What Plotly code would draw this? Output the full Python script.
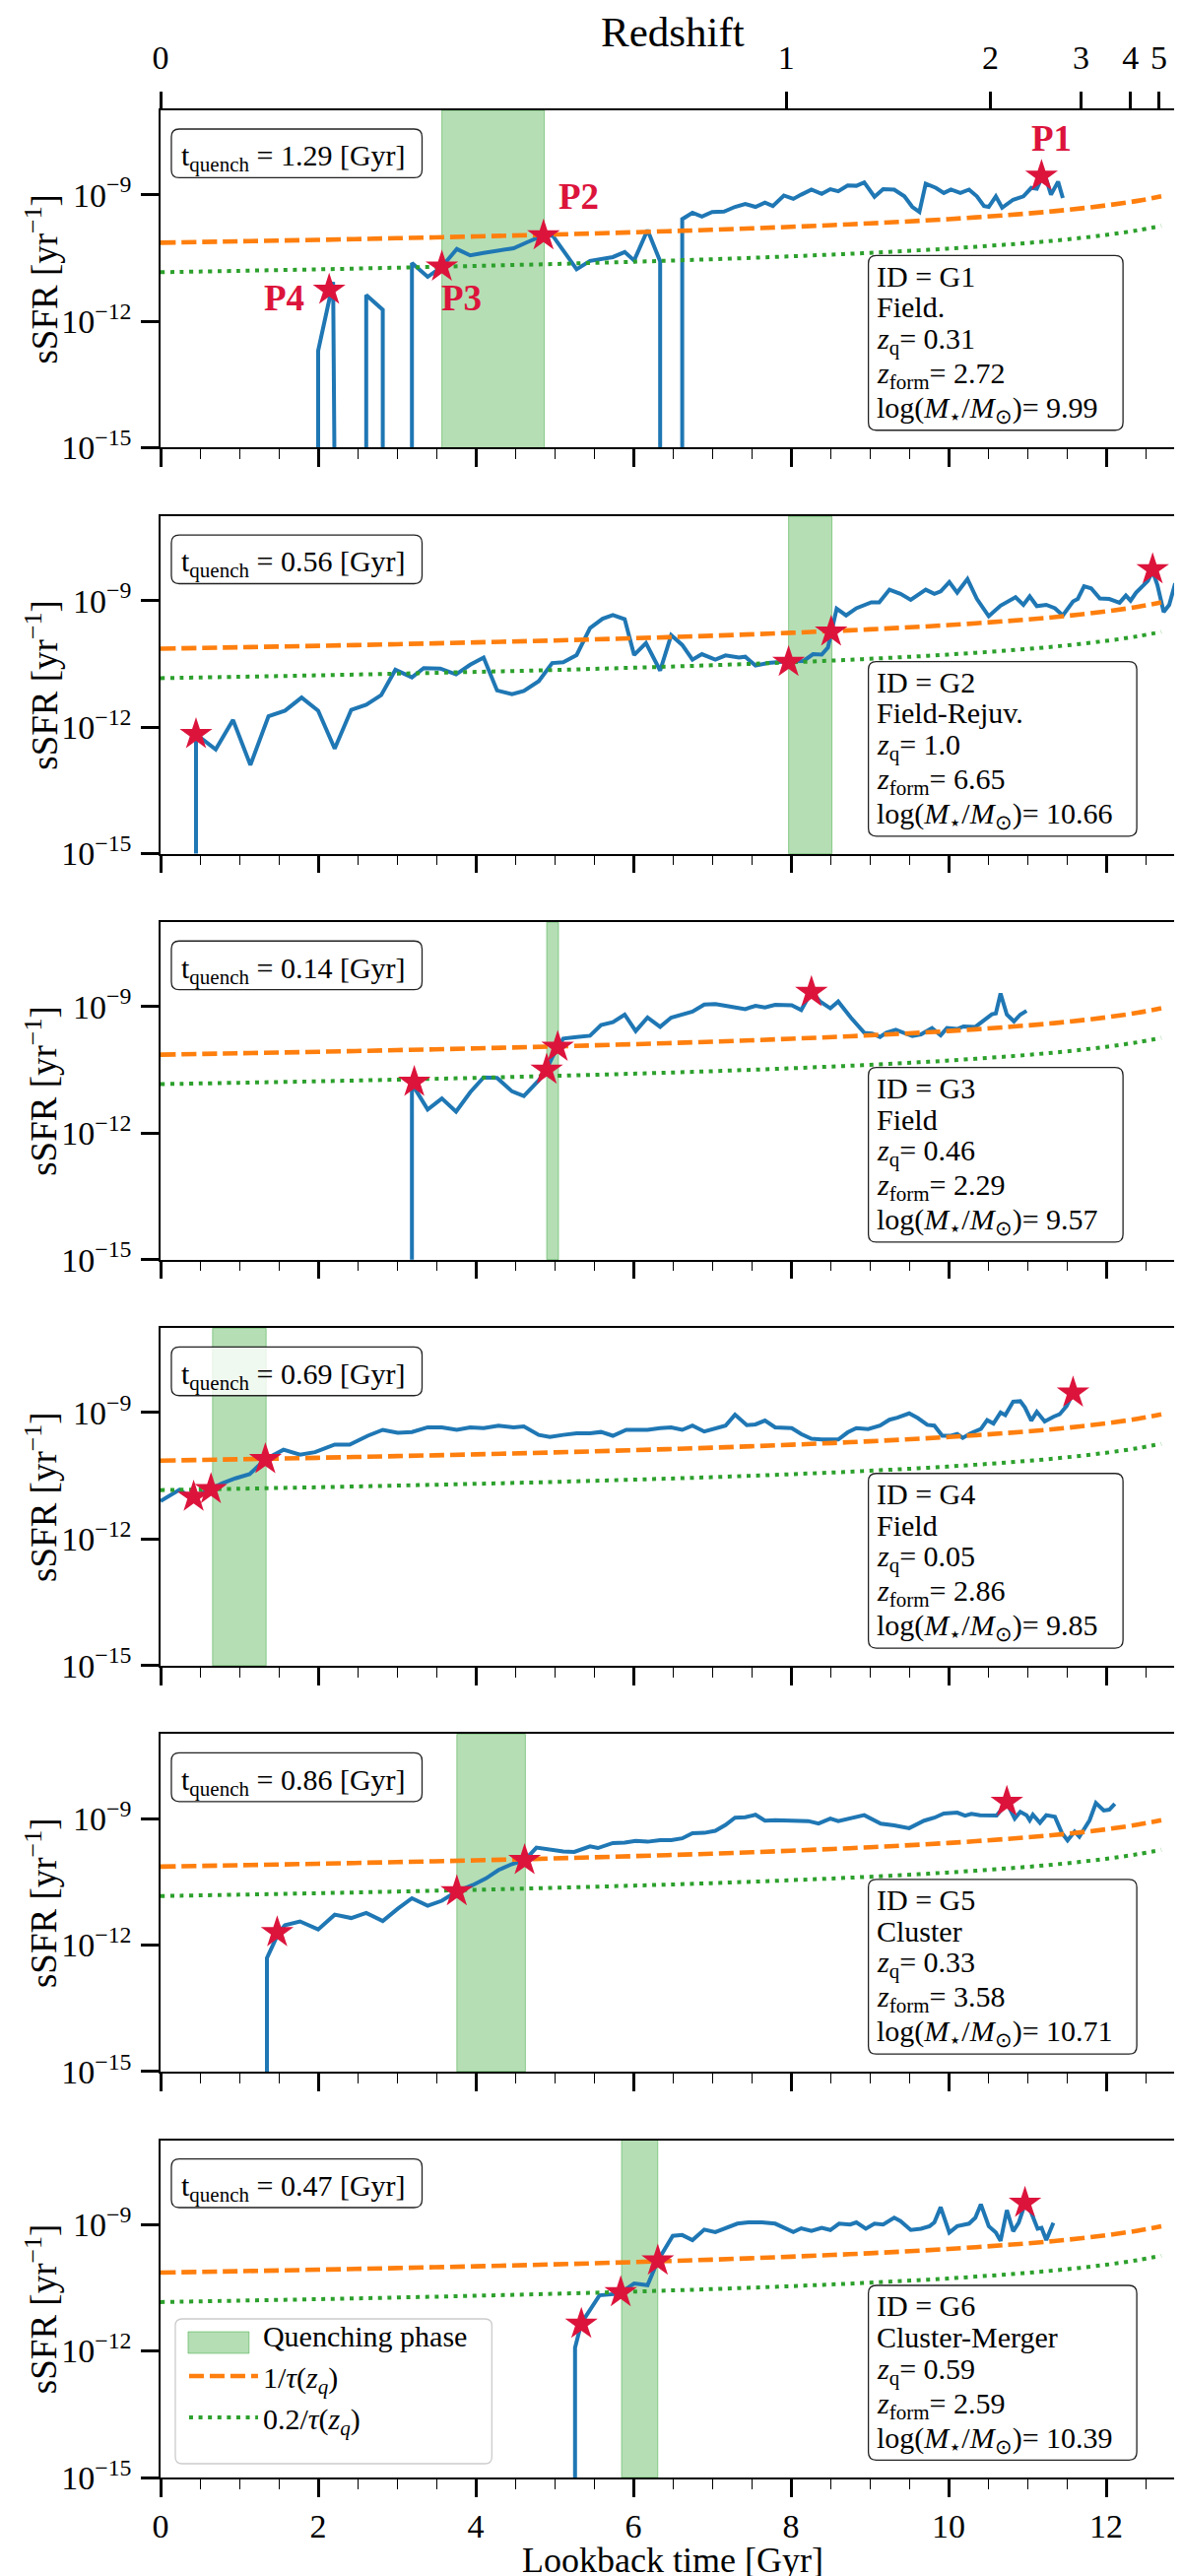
import plotly.graph_objects as go

# ---------------- data ----------------
FONT = "Liberation Serif"
BLUE, ORANGE, GREEN, CRIMSON = "#1f77b4", "#ff7f0e", "#2ca02c", "#dc143c"
BAND_FILL = "rgba(44,160,44,0.35)"
BAND_EDGE = "rgba(44,160,44,0.45)"

# reference curves (log10 sSFR [yr^-1]) vs lookback time [Gyr]
ref_t = [0, 1, 2, 3, 4, 5, 6, 7, 8, 9, 10, 11, 11.5, 12, 12.4, 12.7]
ref_log_tau = [-10.14, -10.107, -10.072, -10.033, -9.991, -9.945, -9.892, -9.833,
               -9.763, -9.681, -9.580, -9.447, -9.362, -9.255, -9.146, -9.041]
ref_log_02tau = [-10.839, -10.806, -10.771, -10.732, -10.690, -10.644, -10.591, -10.532,
                 -10.462, -10.380, -10.279, -10.146, -10.061, -9.954, -9.845, -9.740]

# top axis: redshift ticks and their lookback times
z_tick_labels = ["0", "1", "2", "3", "4", "5"]
z_tick_lookback = [0.0, 7.94, 10.53, 11.68, 12.31, 12.67]

galaxy_ids = ["G1", "G2", "G3", "G4", "G5", "G6"]
environments = ["Field.", "Field-Rejuv.", "Field", "Field", "Cluster", "Cluster-Merger"]
z_q = ["0.31", "1.0", "0.46", "0.05", "0.33", "0.59"]
z_form = ["2.72", "6.65", "2.29", "2.86", "3.58", "2.59"]
log_mass = ["9.99", "10.66", "9.57", "9.85", "10.71", "10.39"]
t_quench = ["1.29", "0.56", "0.14", "0.69", "0.86", "0.47"]
quench_start = [3.57, 7.97, 4.90, 0.66, 3.76, 5.85]
quench_end = [4.87, 8.52, 5.05, 1.34, 4.63, 6.31]

# sSFR histories: (lookback time [Gyr], log10 sSFR); -16 = no star formation (below floor)
g1_history = [(2.00, -16), (2.00, -12.70), (2.19, -11.07), (2.21, -16), (2.61, -16), (2.61, -11.38),
              (2.82, -11.73), (2.82, -16), (3.19, -16), (3.19, -10.62), (3.39, -10.95), (3.57, -10.71),
              (3.76, -10.29), (3.93, -10.44), (4.10, -10.38), (4.31, -10.33), (4.48, -10.27), (4.65, -10.13),
              (4.86, -9.96), (4.98, -9.98), (5.28, -10.77), (5.45, -10.57), (5.66, -10.50), (5.74, -10.48),
              (5.89, -10.36), (6.01, -10.56), (6.18, -9.84), (6.34, -10.58), (6.34, -16), (6.62, -16),
              (6.62, -9.58), (6.75, -9.43), (6.87, -9.52), (7.00, -9.41), (7.15, -9.40), (7.29, -9.29),
              (7.42, -9.22), (7.55, -9.29), (7.67, -9.19), (7.77, -9.27), (7.91, -9.02), (8.03, -9.10),
              (8.13, -9.00), (8.26, -8.88), (8.39, -8.98), (8.50, -8.87), (8.60, -8.92), (8.72, -8.78),
              (8.83, -8.79), (8.93, -8.71), (9.06, -9.05), (9.17, -8.87), (9.31, -8.88), (9.44, -9.04),
              (9.54, -9.29), (9.63, -9.41), (9.71, -8.74), (9.84, -8.84), (9.94, -8.96), (10.03, -8.88),
              (10.15, -8.96), (10.26, -8.88), (10.36, -9.04), (10.45, -9.27), (10.51, -9.29), (10.60, -9.04),
              (10.68, -9.31), (10.82, -9.12), (10.95, -9.04), (11.05, -8.84), (11.12, -8.86), (11.18, -8.61),
              (11.24, -8.64), (11.30, -9.00), (11.39, -8.69), (11.45, -9.08)]
g2_history = [(0.45, -16), (0.45, -12.17), (0.70, -12.53), (0.92, -11.83), (1.14, -12.90), (1.37, -11.74),
              (1.58, -11.61), (1.79, -11.30), (2.00, -11.61), (2.21, -12.51), (2.42, -11.59), (2.61, -11.47),
              (2.80, -11.24), (2.98, -10.64), (3.19, -10.82), (3.34, -10.60), (3.55, -10.61), (3.75, -10.75),
              (3.93, -10.52), (4.10, -10.35), (4.27, -11.13), (4.46, -11.22), (4.61, -11.14), (4.80, -10.91),
              (4.97, -10.48), (5.11, -10.46), (5.28, -10.29), (5.45, -9.65), (5.61, -9.43), (5.74, -9.34),
              (5.89, -9.44), (6.01, -10.29), (6.16, -10.01), (6.34, -10.66), (6.48, -9.82), (6.62, -10.05),
              (6.75, -10.40), (6.87, -10.27), (7.04, -10.40), (7.17, -10.30), (7.34, -10.35), (7.42, -10.33),
              (7.55, -10.54), (7.71, -10.48), (7.97, -10.44), (8.16, -10.43), (8.28, -10.27), (8.39, -10.28),
              (8.47, -10.11), (8.51, -9.74), (8.58, -9.19), (8.70, -9.35), (8.83, -9.18), (9.02, -9.04),
              (9.12, -9.04), (9.25, -8.74), (9.39, -8.84), (9.52, -8.98), (9.71, -8.74), (9.82, -8.84),
              (9.90, -8.78), (10.01, -8.56), (10.11, -8.81), (10.24, -8.49), (10.36, -8.96), (10.51, -9.37),
              (10.66, -9.12), (10.85, -8.92), (10.95, -9.10), (11.03, -8.90), (11.12, -9.13), (11.24, -9.10),
              (11.35, -9.18), (11.45, -9.35), (11.58, -9.02), (11.64, -8.96), (11.72, -8.66), (11.81, -8.71),
              (11.92, -8.95), (12.04, -8.96), (12.17, -9.05), (12.25, -8.88), (12.31, -9.00), (12.38, -8.81),
              (12.46, -8.66), (12.53, -8.53), (12.59, -8.30), (12.65, -8.63), (12.73, -9.27), (12.80, -9.10),
              (12.87, -8.63), (12.93, -8.64), (13.00, -8.30)]
g3_history = [(3.19, -16), (3.19, -10.83), (3.39, -11.44), (3.57, -11.18), (3.75, -11.49), (3.93, -11.03),
              (4.10, -10.68), (4.27, -10.69), (4.46, -11.01), (4.61, -11.12), (4.80, -10.75), (4.90, -10.48),
              (4.98, -10.17), (5.04, -9.96), (5.11, -9.76), (5.28, -9.72), (5.45, -9.69), (5.59, -9.44),
              (5.74, -9.37), (5.89, -9.19), (6.03, -9.58), (6.18, -9.26), (6.34, -9.48), (6.48, -9.26),
              (6.62, -9.19), (6.75, -9.12), (6.90, -8.95), (7.04, -8.94), (7.17, -8.98), (7.29, -9.02),
              (7.42, -9.06), (7.55, -8.98), (7.67, -9.02), (7.80, -8.96), (8.01, -8.97), (8.13, -9.08),
              (8.26, -8.65), (8.37, -8.88), (8.50, -9.04), (8.60, -8.88), (8.76, -9.26), (8.93, -9.62),
              (9.03, -9.64), (9.13, -9.72), (9.21, -9.62), (9.33, -9.55), (9.44, -9.62), (9.54, -9.70),
              (9.65, -9.66), (9.79, -9.51), (9.90, -9.68), (9.98, -9.51), (10.11, -9.53), (10.19, -9.47),
              (10.34, -9.48), (10.45, -9.31), (10.55, -9.18), (10.60, -9.16), (10.66, -8.69), (10.74, -9.19),
              (10.83, -9.35), (10.91, -9.19), (10.99, -9.10)]
g4_history = [(0.00, -11.10), (0.24, -10.83), (0.40, -11.03), (0.64, -10.82), (0.78, -10.68), (0.95, -10.56),
              (1.13, -10.46), (1.33, -10.11), (1.56, -9.88), (1.77, -10.00), (1.96, -9.94), (2.21, -9.76),
              (2.40, -9.76), (2.63, -9.55), (2.82, -9.41), (3.01, -9.48), (3.19, -9.46), (3.39, -9.35),
              (3.57, -9.35), (3.76, -9.41), (3.93, -9.35), (4.10, -9.37), (4.29, -9.31), (4.48, -9.35),
              (4.61, -9.33), (4.80, -9.53), (4.94, -9.58), (5.11, -9.53), (5.28, -9.49), (5.45, -9.49),
              (5.59, -9.46), (5.74, -9.55), (5.91, -9.41), (6.03, -9.41), (6.18, -9.41), (6.34, -9.37),
              (6.48, -9.35), (6.62, -9.41), (6.75, -9.31), (6.90, -9.45), (7.04, -9.37), (7.17, -9.31),
              (7.29, -9.05), (7.44, -9.30), (7.55, -9.28), (7.67, -9.19), (7.80, -9.35), (8.01, -9.37),
              (8.13, -9.51), (8.26, -9.62), (8.39, -9.64), (8.60, -9.64), (8.72, -9.47), (8.83, -9.37),
              (8.98, -9.39), (9.13, -9.31), (9.25, -9.17), (9.35, -9.12), (9.50, -9.02), (9.61, -9.13),
              (9.73, -9.29), (9.82, -9.31), (9.92, -9.55), (10.03, -9.55), (10.11, -9.51), (10.18, -9.60),
              (10.28, -9.49), (10.41, -9.39), (10.49, -9.18), (10.57, -9.26), (10.66, -9.00), (10.72, -9.06),
              (10.82, -8.74), (10.91, -8.73), (10.97, -8.88), (11.05, -9.19), (11.12, -8.98), (11.22, -9.21),
              (11.33, -9.10), (11.41, -9.04), (11.50, -8.84), (11.58, -8.53)]
g5_history = [(1.35, -16), (1.35, -12.31), (1.50, -11.70), (1.58, -11.53), (1.77, -11.44), (2.00, -11.63),
              (2.21, -11.28), (2.42, -11.36), (2.61, -11.24), (2.82, -11.43), (3.01, -11.14), (3.19, -10.89),
              (3.39, -11.07), (3.57, -10.95), (3.76, -10.73), (3.96, -10.58), (4.13, -10.42), (4.29, -10.22),
              (4.46, -10.08), (4.62, -9.99), (4.77, -9.69), (4.94, -9.74), (5.11, -9.78), (5.25, -9.79),
              (5.45, -9.66), (5.55, -9.70), (5.74, -9.58), (5.89, -9.57), (6.03, -9.53), (6.18, -9.55),
              (6.34, -9.51), (6.48, -9.51), (6.62, -9.47), (6.75, -9.35), (6.90, -9.34), (7.04, -9.29),
              (7.17, -9.15), (7.29, -8.98), (7.42, -8.97), (7.55, -8.91), (7.67, -9.05), (7.80, -9.04),
              (8.01, -9.06), (8.22, -9.06), (8.35, -9.12), (8.50, -9.00), (8.60, -9.06), (8.75, -9.00),
              (8.83, -8.98), (8.93, -8.92), (9.14, -9.12), (9.31, -9.16), (9.50, -9.23), (9.69, -9.05),
              (9.82, -8.98), (9.94, -8.88), (10.11, -8.86), (10.21, -8.93), (10.29, -8.89), (10.40, -8.92),
              (10.61, -8.93), (10.74, -8.63), (10.84, -9.00), (10.91, -8.84), (10.99, -8.92), (11.03, -9.04),
              (11.07, -8.91), (11.16, -9.10), (11.24, -8.92), (11.35, -8.96), (11.44, -9.35), (11.51, -9.52),
              (11.60, -9.31), (11.66, -9.43), (11.79, -9.04), (11.87, -8.63), (11.97, -8.81), (12.04, -8.79),
              (12.11, -8.65)]
g6_history = [(5.26, -16), (5.26, -11.92), (5.34, -11.34), (5.45, -11.01), (5.57, -10.68), (5.82, -10.64),
              (6.01, -10.40), (6.18, -10.44), (6.31, -9.86), (6.50, -9.27), (6.62, -9.25), (6.75, -9.37),
              (6.90, -9.12), (7.04, -9.18), (7.17, -9.08), (7.32, -8.98), (7.46, -8.95), (7.63, -8.95),
              (7.80, -8.98), (7.91, -9.08), (8.03, -9.18), (8.13, -9.09), (8.26, -9.15), (8.39, -9.08),
              (8.50, -9.13), (8.61, -8.98), (8.75, -9.00), (8.83, -8.95), (8.95, -9.10), (9.06, -8.98),
              (9.17, -9.00), (9.31, -8.84), (9.39, -8.92), (9.52, -9.13), (9.65, -9.10), (9.76, -9.04),
              (9.82, -8.95), (9.90, -8.59), (10.01, -9.19), (10.11, -9.04), (10.26, -8.98), (10.34, -8.84),
              (10.41, -8.52), (10.51, -9.04), (10.60, -9.19), (10.66, -9.39), (10.74, -8.66), (10.82, -9.16),
              (10.89, -8.96), (10.97, -8.51), (11.05, -8.72), (11.13, -9.10), (11.18, -9.08), (11.24, -9.37),
              (11.33, -8.96)]
histories = [g1_history, g2_history, g3_history, g4_history, g5_history, g6_history]

# highlighted points (stars)
star_t = [[2.14, 3.57, 4.86, 11.18], [0.45, 7.97, 8.51, 12.59], [3.22, 4.90, 5.04, 8.26],
          [0.42, 0.64, 1.33, 11.58], [1.48, 3.76, 4.62, 10.74], [5.34, 5.84, 6.31, 10.97]]
star_log = [[-11.26, -10.71, -9.97, -8.56], [-12.17, -10.46, -9.74, -8.26], [-10.79, -10.50, -9.96, -8.66],
            [-11.00, -10.82, -10.11, -8.53], [-11.70, -10.73, -9.99, -8.61], [-11.36, -10.61, -9.86, -8.49]]
g1_point_labels = ["P4", "P3", "P2", "P1"]

y_tick_vals = [1e-15, 1e-12, 1e-9]
y_tick_text = ["10<sup>\u221215</sup>", "10<sup>\u221212</sup>", "10<sup>\u22129</sup>"]


# ---------------- helpers (layout only) ----------------
def rounded_rect(x0, y0, x1, y1, rx, ry):
    return (f"M{x0 + rx},{y0} L{x1 - rx},{y0} Q{x1},{y0} {x1},{y0 + ry} "
            f"L{x1},{y1 - ry} Q{x1},{y1} {x1 - rx},{y1} L{x0 + rx},{y1} "
            f"Q{x0},{y1} {x0},{y1 - ry} L{x0},{y0 + ry} Q{x0},{y0} {x0 + rx},{y0} Z")


PLOT_W, PLOT_H, PANEL_H = 1042.0, 2403.0, 342.4   # pixel sizes
PITCH, H = 0.1715, 0.1425                        # panel pitch / height in paper units


def dx(px):   # horizontal pixels -> domain fraction
    return px / PLOT_W


def dy(px_from_top):   # pixels below panel top -> domain fraction
    return 1 - px_from_top / PANEL_H


def py(px_from_bottom):   # pixels above plot bottom -> paper fraction
    return px_from_bottom / PLOT_H


BOX_FONT = 30
fig = go.Figure()
label_shift = [(-46, -8), (20, -32), (36, 40), (10, 38)]

for k in range(6):
    s = "" if k == 0 else str(k + 1)
    xa, ya = "x" + s, "y" + s
    last = (k == 5)

    fig.add_shape(type="rect", xref=xa, yref=ya + " domain", x0=quench_start[k], x1=quench_end[k],
                  y0=0, y1=1, fillcolor=BAND_FILL, line=dict(color=BAND_EDGE, width=1), layer="below")

    ts = [p[0] for p in histories[k]]
    vs = [10 ** p[1] for p in histories[k]]
    fig.add_trace(go.Scatter(x=ts, y=vs, mode="lines", line=dict(color=BLUE, width=4.0),
                             xaxis=xa, yaxis=ya, showlegend=False, hoverinfo="skip"))

    fig.add_trace(go.Scatter(x=ref_t, y=[10 ** v for v in ref_log_tau], mode="lines",
                             line=dict(color=ORANGE, width=4.6, dash="15px,6px", shape="spline"),
                             xaxis=xa, yaxis=ya, name="1/<i>\u03c4</i>(<i>z<sub>q</sub></i>)",
                             showlegend=last, legendgroup="tau", legendrank=2, hoverinfo="skip"))
    fig.add_trace(go.Scatter(x=ref_t, y=[10 ** v for v in ref_log_02tau], mode="lines",
                             line=dict(color=GREEN, width=4.0, dash="4px,5.6px", shape="spline"),
                             xaxis=xa, yaxis=ya, name="0.2/<i>\u03c4</i>(<i>z<sub>q</sub></i>)",
                             showlegend=last, legendgroup="tau02", legendrank=3, hoverinfo="skip"))

    fig.add_trace(go.Scatter(x=star_t[k], y=[10 ** v for v in star_log[k]], mode="markers",
                             marker=dict(symbol="star", size=25, color=CRIMSON, line=dict(width=0)),
                             xaxis=xa, yaxis=ya, showlegend=False, hoverinfo="skip"))

    if last:
        # legend entry for the quenching band (its patch is drawn in the legend frame below)
        fig.add_trace(go.Scatter(x=[None], y=[None], mode="markers", name="Quenching phase",
                                 marker=dict(color="rgba(0,0,0,0)", size=1),
                                 xaxis=xa, yaxis=ya, legendgroup="band", legendrank=1,
                                 hoverinfo="skip"))

    top = 1 - PITCH * k
    dom = [max(0.0, top - H), top]
    fig.layout["xaxis" + s] = dict(
        domain=[0, 1], anchor=ya, range=[0, 13], showgrid=False, zeroline=False,
        showline=True, linecolor="black", linewidth=1.5, mirror=True,
        ticks="outside", ticklen=18, tickwidth=2.6, tickcolor="black", tick0=0, dtick=2,
        minor=dict(tick0=0, dtick=0.5, ticks="outside", ticklen=10, tickwidth=1.2, tickcolor="black"),
        showticklabels=last, tickfont=dict(size=34), ticklabelstandoff=0)
    fig.layout["yaxis" + s] = dict(
        domain=dom, anchor=xa, type="log", range=[-15, -7], showgrid=False, zeroline=False,
        showline=True, linecolor="black", linewidth=1.5, mirror=True,
        ticks="outside", ticklen=18, tickwidth=2.6, tickcolor="black",
        tickmode="array", tickvals=y_tick_vals, ticktext=y_tick_text,
        tickfont=dict(size=34), ticklabelstandoff=3)

    xd, yd = xa + " domain", ya + " domain"
    rx, ry = dx(8), 8 / PANEL_H
    # t_quench box
    fig.add_shape(type="path", xref=xd, yref=yd, layer="above",
                  path=rounded_rect(dx(11), dy(68.4), dx(266), dy(19), rx, ry),
                  fillcolor="rgba(255,255,255,0.8)", line=dict(color="#222222", width=1.3))
    fig.add_annotation(text=f"t<sub>quench</sub> = {t_quench[k]} [Gyr]", x=dx(20.5), y=dy(28.3),
                       xref=xd, yref=yd, xanchor="left", yanchor="top", showarrow=False,
                       borderpad=0, font=dict(size=BOX_FONT))
    # info box
    box_w = 259 + 14 * (len(log_mass[k]) - 4)
    fig.add_shape(type="path", xref=xd, yref=yd, layer="above",
                  path=rounded_rect(dx(720), dy(324.7), dx(720 + box_w), dy(147.4), rx, ry),
                  fillcolor="rgba(255,255,255,0.8)", line=dict(color="#222222", width=1.3))
    info_lines = [f"ID = {galaxy_ids[k]}", environments[k],
                  f"<i>z</i><sub>q</sub>= {z_q[k]}",
                  f"<i>z</i><sub>form</sub>= {z_form[k]}",
                  f"log(<i>M</i><sub>\u22c6</sub>/<i>M</i><sub>\u2299</sub>)= {log_mass[k]}"]
    for line_text, top_px in zip(info_lines, [150.7, 182.3, 214.0, 249.0, 284.0]):
        fig.add_annotation(text=line_text, x=dx(727), y=dy(top_px), xref=xd, yref=yd,
                           xanchor="left", yanchor="top", showarrow=False, borderpad=0,
                           font=dict(size=BOX_FONT))

    fig.add_annotation(text="sSFR [yr<sup>\u22121</sup>]", xref="paper", yref="paper",
                       x=-0.116, y=(dom[0] + dom[1]) / 2, textangle=-90, showarrow=False,
                       font=dict(size=37), xanchor="center", yanchor="middle")

# P labels for G1
for lab, tt, vv, (sx, sy) in zip(g1_point_labels, star_t[0], star_log[0], label_shift):
    fig.add_annotation(text=f"<b>{lab}</b>", x=tt, y=vv, xref="x", yref="y", showarrow=False,
                       xshift=sx, yshift=sy, font=dict(size=37, color=CRIMSON))

# legend frame (rounded) and the quenching-phase patch
fig.add_shape(type="path", xref="paper", yref="paper", layer="above",
              path=rounded_rect(dx(15), py(14), dx(337), py(161), dx(7), py(7)),
              fillcolor="rgba(255,255,255,0.8)", line=dict(color="#cccccc", width=1.3))
fig.add_shape(type="rect", xref="paper", yref="paper", layer="above",
              x0=dx(28), x1=dx(90), y0=py(126), y1=py(148),
              fillcolor=BAND_FILL, line=dict(color=BAND_EDGE, width=1))

# top redshift axis
fig.add_trace(go.Scatter(x=[0, 13], y=[None, None], xaxis="x7", yaxis="y", mode="lines",
                         showlegend=False, hoverinfo="skip"))
fig.layout["xaxis7"] = dict(overlaying="x", anchor="y", side="top", range=[0, 13],
                            tickmode="array", tickvals=z_tick_lookback, ticktext=z_tick_labels,
                            ticks="outside", ticklen=18, tickwidth=2.6, tickcolor="black",
                            showgrid=False, zeroline=False, showline=False,
                            tickfont=dict(size=34), ticklabelstandoff=9)

fig.add_annotation(text="Redshift", xref="paper", yref="paper", x=0.5, y=1.0331, showarrow=False,
                   font=dict(size=43), xanchor="center", yanchor="middle")
fig.add_annotation(text="Lookback time [Gyr]", xref="paper", yref="paper", x=0.5, y=py(-84),
                   showarrow=False, font=dict(size=36), xanchor="center", yanchor="middle")

fig.update_layout(
    width=1200, height=2615, margin=dict(l=155, r=3, t=104, b=108),
    paper_bgcolor="white", plot_bgcolor="white",
    font=dict(family=FONT, color="black"),
    legend=dict(x=dx(24), y=py(171), xanchor="left", yanchor="top",
                bgcolor="rgba(0,0,0,0)", borderwidth=0,
                font=dict(size=30), itemwidth=70, tracegroupgap=3, traceorder="normal"),
)

fig.write_html("out.html")
